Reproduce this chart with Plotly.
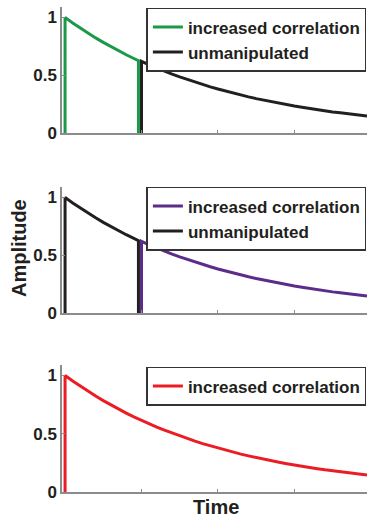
import plotly.graph_objects as go
from plotly.subplots import make_subplots

# Values (time in tick units, amplitude)
# first segment (before the break), including the vertical rise and drop
seg1_t = [0.0, 0.0, 0.1, 0.2, 0.3, 0.4, 0.5, 0.6, 0.7, 0.8, 0.9, 0.96, 0.96]
seg1_v = [0.0, 1.0, 0.952, 0.907, 0.864, 0.823, 0.784, 0.746, 0.711, 0.677, 0.645, 0.626, 0.0]
# second segment (after the break)
seg2_t = [1.0, 1.0, 1.1, 1.2, 1.3, 1.4, 1.5, 1.6, 1.7, 1.8, 1.9, 2.0, 2.1, 2.2, 2.3, 2.4, 2.5,
          2.6, 2.7, 2.8, 2.9, 3.0, 3.1, 3.2, 3.3, 3.4, 3.5, 3.6, 3.7, 3.8, 3.9, 3.95]
seg2_v = [0.0, 0.62, 0.59, 0.562, 0.535, 0.51, 0.486, 0.463, 0.44, 0.42, 0.40, 0.381, 0.363, 0.345,
          0.329, 0.313, 0.298, 0.284, 0.271, 0.258, 0.246, 0.234, 0.223, 0.212, 0.202, 0.193, 0.183,
          0.175, 0.166, 0.158, 0.151, 0.147]
# full continuous curve (bottom panel)
full_t = [0.0, 0.0, 0.1, 0.2, 0.3, 0.4, 0.5, 0.6, 0.7, 0.8, 0.9, 1.0, 1.1, 1.2, 1.3, 1.4, 1.5, 1.6,
          1.7, 1.8, 1.9, 2.0, 2.1, 2.2, 2.3, 2.4, 2.5, 2.6, 2.7, 2.8, 2.9, 3.0, 3.1, 3.2, 3.3, 3.4,
          3.5, 3.6, 3.7, 3.8, 3.9, 3.95]
full_v = [0.0, 1.0, 0.952, 0.907, 0.864, 0.823, 0.784, 0.746, 0.711, 0.677, 0.645, 0.614, 0.585,
          0.557, 0.53, 0.505, 0.481, 0.458, 0.436, 0.415, 0.396, 0.377, 0.359, 0.342, 0.325, 0.31,
          0.295, 0.281, 0.268, 0.255, 0.243, 0.231, 0.22, 0.21, 0.2, 0.19, 0.181, 0.172, 0.164,
          0.156, 0.149, 0.145]

green = "#1a9a48"
purple = "#5b2c8a"
black = "#231f20"
red = "#ec1c24"

yticks = [0, 0.5, 1]
yticklabels = ["0", "0.5", "1"]
xticks = [1, 2, 3]

fig = make_subplots(rows=3, cols=1, vertical_spacing=0.1)

FAM = "Liberation Sans, Arial, sans-serif"
FONT = dict(family=FAM, size=17, color="#231f20", weight="bold")
LFONT = dict(family=FAM, size=17, color="#231f20", weight="bold")
LW = 3

# panel 1
fig.add_trace(go.Scatter(x=seg1_t, y=seg1_v, mode="lines", line=dict(color=green, width=LW),
                         name="increased correlation", legend="legend"), row=1, col=1)
fig.add_trace(go.Scatter(x=seg2_t, y=seg2_v, mode="lines", line=dict(color=black, width=LW),
                         name="unmanipulated", legend="legend"), row=1, col=1)
# panel 2
fig.add_trace(go.Scatter(x=seg2_t, y=seg2_v, mode="lines", line=dict(color=purple, width=LW),
                         name="increased correlation", legend="legend2"), row=2, col=1)
fig.add_trace(go.Scatter(x=seg1_t, y=seg1_v, mode="lines", line=dict(color=black, width=LW),
                         name="unmanipulated", legend="legend2"), row=2, col=1)
# panel 3
fig.add_trace(go.Scatter(x=full_t, y=full_v, mode="lines", line=dict(color=red, width=LW),
                         name="increased correlation", legend="legend3"), row=3, col=1)

domains = [[0.740, 1.0], [0.369, 0.629], [0.0, 0.262]]
for i in range(3):
    fig.update_yaxes(domain=domains[i], range=[0, 1.09], tickvals=yticks, ticktext=yticklabels,
                     showline=True, linecolor="#8c8c8c", linewidth=1.5, ticks="inside", ticklen=3,
                     tickcolor="#8c8c8c", showgrid=False, zeroline=False, tickfont=FONT,
                     row=i + 1, col=1)
    fig.update_xaxes(range=[-0.04, 3.95], tickvals=xticks, showticklabels=False,
                     showline=True, linecolor="#8c8c8c", linewidth=1.5, ticks="inside", ticklen=3,
                     tickcolor="#8c8c8c", showgrid=False, zeroline=False,
                     row=i + 1, col=1)

legend_style = dict(xref="paper", yref="paper", x=0.998, xanchor="right", yanchor="top",
                    bgcolor="white", bordercolor="#333333", borderwidth=1.5,
                    font=LFONT, tracegroupgap=0, itemwidth=30)
leg_y = [0.998, 0.629, 0.258]

fig.update_layout(
    width=367, height=519,
    margin=dict(l=62, r=0, t=7, b=27),
    plot_bgcolor="white", paper_bgcolor="white",
    showlegend=True,
    legend=dict(y=leg_y[0], **legend_style),
    legend2=dict(y=leg_y[1], **legend_style),
    legend3=dict(y=leg_y[2], **legend_style),
    annotations=[
        dict(text="Amplitude", xref="paper", yref="paper", x=-0.141, y=0.503, textangle=-90,
             showarrow=False, xanchor="center", yanchor="middle",
             font=dict(family=FAM, size=20, color="#231f20", weight="bold")),
        dict(text="Time", xref="paper", yref="paper", x=0.505, y=-0.031,
             showarrow=False, xanchor="center", yanchor="middle",
             font=dict(family=FAM, size=20, color="#231f20", weight="bold")),
    ],
)

fig.write_html("out.html")
